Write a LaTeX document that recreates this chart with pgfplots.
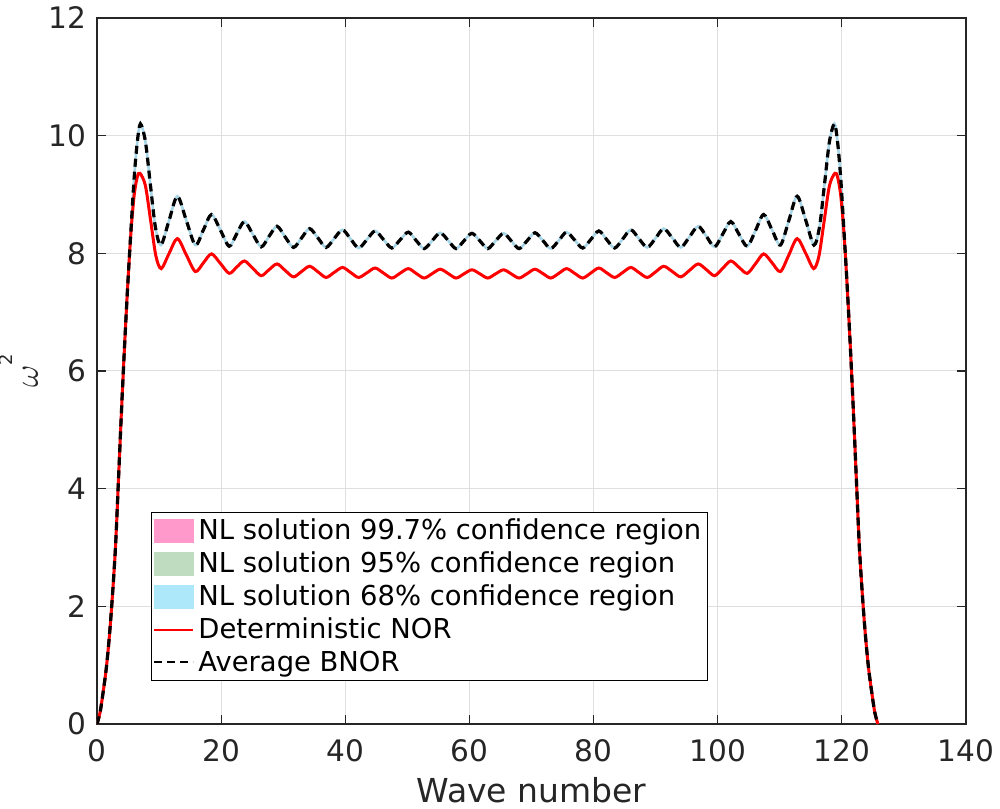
\documentclass[border=0pt]{standalone}
\usepackage{fontspec}
\setmainfont{DejaVu Sans}
\usepackage{pgfplots}
\pgfplotsset{compat=1.18}
\usepackage{pgfplotstable}
\definecolor{axgray}{RGB}{38,38,38}
\definecolor{gridgray}{RGB}{223,223,223}
\definecolor{pinkc}{RGB}{255,153,204}
\definecolor{greenc}{RGB}{192,220,192}
\definecolor{bluec}{RGB}{173,232,250}
\definecolor{bandline}{RGB}{168,214,230}

\pgfplotstableread{
x y
0 0
0.5 0.2
1.0 0.55
1.5 0.95
2.0 1.5
2.5 2.2
3.0 3.05
3.5 4.25
4.0 5.45
4.5 6.55
5.0 7.55
5.5 8.45
6.0 9.3
6.5 9.9
7.0 10.2
7.8 9.9
8.6 9.17
9.4 8.45
10.3 8.14
11.6 8.555
12.95 8.97
14.4 8.555
15.85 8.14
17.15 8.40
18.45 8.66
19.9 8.39
21.3 8.12
22.5 8.33
23.75 8.54
25.1 8.325
26.45 8.11
27.7 8.285
29.0 8.46
30.3 8.28
31.65 8.10
32.95 8.26
34.25 8.42
35.6 8.26
36.9 8.10
38.2 8.25
39.55 8.40
40.85 8.245
42.15 8.09
43.5 8.235
44.8 8.38
46.15 8.235
47.5 8.09
48.8 8.225
50.15 8.36
51.4 8.22
52.7 8.08
54.0 8.215
55.3 8.35
56.6 8.215
57.85 8.08
59.1 8.21
60.4 8.34
61.7 8.21
62.95 8.08
64.2 8.21
65.5 8.34
66.75 8.21
68.0 8.08
69.3 8.215
70.55 8.35
71.85 8.215
73.1 8.08
74.4 8.22
75.65 8.36
76.95 8.225
78.25 8.09
79.55 8.235
80.85 8.38
82.1 8.235
83.4 8.09
84.7 8.245
86.0 8.40
87.3 8.25
88.65 8.10
90.0 8.26
91.3 8.42
92.7 8.26
94.05 8.10
95.45 8.28
96.85 8.46
98.2 8.285
99.5 8.11
100.8 8.325
102.1 8.54
103.4 8.33
104.75 8.12
106.1 8.39
107.4 8.66
108.75 8.40
110.1 8.14
111.45 8.555
112.8 8.97
114.2 8.555
115.5 8.14
116.4 8.45
117.2 9.17
118.0 9.9
118.8 10.2
119.3 9.9
119.8 9.3
120.3 8.45
120.8 7.55
121.3 6.55
121.8 5.45
122.3 4.25
122.8 3.05
123.3 2.2
123.8 1.5
124.3 0.95
124.8 0.55
125.3 0.2
125.8 0
}\bnor

\pgfplotstableread{
x y
0 0
0.5 0.2
1.0 0.55
1.5 0.95
2.0 1.5
2.5 2.2
3.0 3.05
3.5 4.25
4.0 5.45
4.5 6.55
5.0 7.55
5.5 8.4
6.0 9.0
6.5 9.3
6.93 9.36
7.8 9.15
8.65 8.55
9.5 7.95
10.35 7.74
11.6 7.995
12.95 8.25
14.4 7.97
15.85 7.69
17.15 7.84
18.45 7.99
19.9 7.825
21.3 7.66
22.5 7.765
23.75 7.87
25.1 7.745
26.45 7.62
27.7 7.72
29.0 7.82
30.3 7.71
31.65 7.60
32.95 7.69
34.25 7.78
35.6 7.685
36.9 7.59
38.2 7.675
39.55 7.76
40.85 7.675
42.15 7.59
43.5 7.67
44.8 7.75
46.15 7.665
47.5 7.58
48.8 7.66
50.15 7.74
51.4 7.66
52.7 7.58
54.0 7.655
55.3 7.73
56.6 7.655
57.85 7.58
59.1 7.65
60.4 7.72
61.7 7.65
62.95 7.58
64.2 7.65
65.5 7.72
66.75 7.65
68.0 7.58
69.3 7.655
70.55 7.73
71.85 7.655
73.1 7.58
74.4 7.66
75.65 7.74
76.95 7.66
78.25 7.58
79.55 7.665
80.85 7.75
82.1 7.67
83.4 7.59
84.7 7.675
86.0 7.76
87.3 7.675
88.65 7.59
90.0 7.685
91.3 7.78
92.7 7.69
94.05 7.60
95.45 7.71
96.85 7.82
98.2 7.72
99.5 7.62
100.8 7.745
102.1 7.87
103.4 7.765
104.75 7.66
106.1 7.825
107.4 7.99
108.75 7.84
110.1 7.69
111.45 7.97
112.8 8.25
114.2 7.995
115.45 7.74
116.3 7.95
117.15 8.55
118.0 9.15
118.87 9.36
119.3 9.3
119.8 9.0
120.3 8.4
120.8 7.55
121.3 6.55
121.8 5.45
122.3 4.25
122.8 3.05
123.3 2.2
123.8 1.5
124.3 0.95
124.8 0.55
125.3 0.2
125.8 0
}\nor

\begin{document}
\begin{tikzpicture}
\useasboundingbox (0,0) rectangle (500pt,404pt);
\begin{axis}[
  at={(48.5pt,42pt)}, anchor=south west,
  scale only axis, width=434.5pt, height=353pt,
  xmin=0, xmax=140, ymin=0, ymax=12,
  xtick={0,20,...,140}, ytick={0,2,...,12},
  tick align=inside, major tick length=4.35pt,
  grid=major, grid style={gridgray, line width=0.5pt},
  axis line style={axgray, line width=0.6pt},
  every tick/.style={axgray, line width=0.6pt},
  tick label style={font=\fontsize{14.8}{17}\selectfont, text=axgray},
  /pgf/number format/assume math mode=true,
  xticklabel style={anchor=base, yshift=-18.85pt},
  yticklabel style={anchor=east, inner sep=0pt, xshift=-5pt, text height=10.8pt, text depth=0pt},
  xlabel={Wave number},
  xlabel style={font=\fontsize{16.5}{19}\selectfont, text=axgray, at={(axis description cs:0.5,-0.1109)}, anchor=base},
  ylabel={\fontsize{17}{20}\selectfont$\omega$\raisebox{12.5pt}{\fontsize{9}{9}\selectfont 2}},
  ylabel style={at={(axis description cs:-0.0679,0.5)}, anchor=base, text=axgray},
  legend style={at={(0.0621,0.0609)}, anchor=south west, draw=black, line width=0.5pt, fill=white,
    inner xsep=1pt, inner ysep=1.2pt, font=\fontsize{13.7}{16}\selectfont, row sep=0.6pt},
  legend cell align=left,
]
\addlegendimage{legend image code/.code={\fill[pinkc] (0pt,-5.75pt) rectangle (19.5pt,5.75pt);}}
\addlegendentry{NL solution 99.7\% confidence region}
\addlegendimage{legend image code/.code={\fill[greenc] (0pt,-5.75pt) rectangle (19.5pt,5.75pt);}}
\addlegendentry{NL solution 95\% confidence region}
\addlegendimage{legend image code/.code={\fill[bluec] (0pt,-5.75pt) rectangle (19.5pt,5.75pt);}}
\addlegendentry{NL solution 68\% confidence region}

\addplot[bandline, line width=1.3pt, smooth, forget plot] table[x=x,y=y] {\bnor};
\addplot[red, line width=1.5pt, smooth,
  legend image code/.code={\draw[red, line width=1pt] (0pt,0pt) -- (19.5pt,0pt);}] table[x=x,y=y] {\nor};
\addlegendentry{Deterministic NOR}
\addplot[black, line width=1.6pt, smooth, dash pattern=on 4pt off 2.5pt,
  legend image code/.code={\draw[black, line width=1pt, dash pattern=on 4pt off 2.5pt] (0pt,0pt) -- (19.5pt,0pt);}] table[x=x,y=y] {\bnor};
\addlegendentry{Average BNOR}
\end{axis}
\end{tikzpicture}
\end{document}
